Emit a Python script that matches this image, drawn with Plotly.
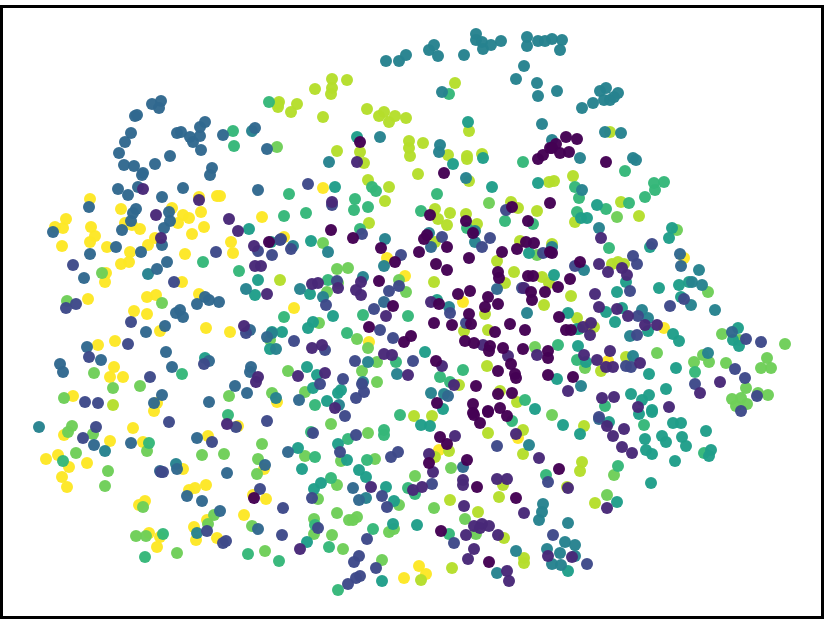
import plotly.graph_objects as go

class_colors = ["#440154","#482878","#3e4989","#31688e","#26828e","#1f9e89","#35b779","#6ece58","#b5de2b","#fde725"]

pts_0 = [(360,142),(444,173),(512,207),(538,159),(543,155),(550,203),(550,148),(566,137),(577,139),(556,144),(552,148),(560,153),(569,152),(606,162),(269,242),
(430,215),(466,221),(473,233),(528,221),(427,235),(424,239),(447,247),(419,252),(469,258),(502,252),(517,249),(526,242),(534,243),(550,252),(436,264),(447,270),(498,272),(499,278),(533,276),(528,276),(470,291),(458,294),(488,297),(485,307),(498,304),(439,304),(531,292),(532,300),(545,292),(469,314),(471,324),(434,323),(452,325),(510,324),(495,332),(525,330),(465,341),(474,343),(490,346),(489,351),(503,348),(523,349),(548,351),(548,358),(511,364),(498,371),(515,374),(516,378),(548,375),(476,386),(436,361),(498,394),(512,393),(437,403),(473,404),(488,411),(500,408),(507,416),(473,413),(379,281),(393,306),(411,336),(404,342),(369,327),(395,262),(381,248),(353,238),(331,230),
(580,262),(552,253),(570,279),(558,287),(559,317),(566,330),(571,330),(573,377),
(254,498),(440,437),(447,444),(429,463),(467,460),(477,487),(516,498),(441,531),(489,562),(474,415),(480,423),(488,412),(559,469)]
pts_1 = [(143,189),(199,200),(357,162),(332,202),(156,215),(161,238),(229,219),(238,231),(254,246),(255,266),(261,266),(267,294),(244,326),(258,377),(256,382),
(431,302),(312,284),(318,283),(338,288),(361,282),(356,290),(361,295),(386,316),(312,348),(322,345),(384,354),(392,355),(298,376),(325,373),(408,375),(442,366),(454,385),(335,408),(483,345),(508,356),(524,288),(537,355),
(601,238),(599,264),(608,272),(622,268),(627,275),(595,294),(599,307),(617,309),(628,316),(645,325),(657,325),(583,327),(591,323),(590,335),(610,351),(584,355),(597,360),(606,367),(613,367),(640,363),(568,391),(602,398),(614,397),(638,407),(669,407),(720,382),(700,393),
(227,424),(455,436),(429,454),(433,472),(413,490),(422,487),(371,487),(463,480),(463,485),(497,479),(507,479),(464,506),(524,513),(539,458),(516,434),(474,526),(482,524),(480,528),(489,526),(466,535),(498,535),(474,549),(468,559),(507,571),(509,581),(300,549),(548,556),
(607,426),(613,436),(624,429),(622,447),(632,453),(568,488),(607,508),(572,557)]
pts_2 = [(308,184),(506,210),(73,265),(174,282),(216,252),(258,251),(272,255),(280,240),(76,304),(66,308),(131,322),(246,333),(128,344),(89,357),(204,364),(150,377),(85,402),(98,403),
(281,239),(291,249),(362,234),(401,255),(442,237),(490,238),(482,247),(543,253),(326,305),(337,281),(389,291),(399,286),(374,309),(380,330),(393,338),(294,341),(325,350),(355,361),(413,361),(450,313),(466,323),(343,379),(320,384),(362,384),(364,392),(356,398),(345,416),(522,288),(332,205),
(652,244),(633,256),(637,264),(575,266),(630,291),(684,299),(670,306),(638,316),(637,335),(746,339),(761,342),(626,366),(631,367),(735,369),(745,378),(695,384),(757,396),(741,411),(599,417),
(96,427),(83,438),(169,422),(212,442),(236,427),(267,421),(161,472),(163,472),(260,489),(207,531),(223,543),(226,541),(282,535),(283,508),
(313,433),(356,435),(340,452),(391,457),(398,452),(382,496),(387,507),(312,498),(318,528),(367,539),(432,484),(454,543),(497,446),(359,556),(354,562),(376,568),(360,576),(356,578),(348,584),(548,482),(553,535),(587,564)]
pts_3 = [(152,104),(161,101),(159,108),(135,116),(137,115),(131,133),(125,142),(119,153),(124,165),(134,166),(143,173),(142,175),(155,164),(170,156),(177,133),(181,132),(190,137),(193,142),(200,136),(200,127),(205,122),(201,150),(223,135),(212,168),(210,175),(255,128),(267,149),(258,190),(118,189),(128,195),(138,187),(162,197),(183,188),(89,207),(136,209),(169,212),
(53,232),(122,230),(131,221),(133,213),(170,221),(164,228),(162,245),(116,247),(90,254),(141,252),(167,262),(157,269),(84,278),(205,297),(209,300),(219,302),(197,304),(180,310),(176,313),(183,317),(165,326),(146,332),(267,337),(87,347),(101,360),(60,364),(63,372),(166,352),(172,367),(209,361),(251,367),(250,372),(235,386),(247,393),(162,395),(154,403),(209,402),(250,330),
(431,247),(497,289),(299,400),(448,396),(384,302),(680,254),(681,266),(732,332),
(94,445),(131,443),(197,438),(177,469),(160,471),(227,473),(265,465),(187,496),(202,501),(220,511),(258,529),(288,452),(353,488),(359,500),(463,467),(599,419)]
pts_4 = [(252,131),(386,61),(399,61),(406,55),(429,50),(434,45),(438,56),(464,55),(476,34),(476,40),(482,42),(483,49),(491,45),(501,41),(527,37),(527,46),(538,41),(545,41),(524,66),(516,79),(537,83),(538,96),(442,92),(542,124),(380,137),(440,145),(439,152),(329,162),(466,178),
(552,39),(562,40),(560,50),(557,91),(582,108),(593,103),(600,91),(606,88),(604,100),(610,100),(614,97),(618,93),(605,132),(621,133),(580,158),(633,158),(636,160),(552,140),(582,190),
(148,274),(246,289),(429,233),(475,231),(475,242),(385,239),(384,266),(363,277),(328,252),(300,289),(323,297),(527,313),(431,393),(444,394),(397,374),(368,362),(363,382),(276,349),(272,333),(293,246),(339,405),(276,398),(449,307),
(599,228),(584,270),(699,270),(692,282),(702,285),(691,305),(715,310),(642,310),(648,318),(630,336),(708,353),(633,356),(581,386),(552,247),
(39,427),(105,451),(176,464),(197,533),(366,498),(529,445),(497,573),(516,551),(543,504),(542,512),(539,520),(547,549),
(568,523),(565,542),(575,545),(560,553),(552,564),(561,565),(575,556)]
pts_5 = [(468,122),(453,164),(483,158),(492,187),(538,183),(335,187),(357,137),(597,205),
(249,229),(258,280),(255,295),(272,332),(270,349),(205,358),(271,242),
(311,241),(310,294),(333,316),(313,322),(308,328),(282,332),(425,352),(307,367),(317,375),(313,388),(327,401),(338,393),(341,390),(535,409),(529,253),(443,409),(437,300),
(581,218),(587,218),(672,228),(669,238),(650,247),(554,275),(626,282),(617,292),(659,288),(679,285),(689,282),(681,297),(606,312),(622,308),(568,313),(615,322),(648,331),(673,334),(679,341),(578,346),(649,374),(676,368),(666,389),(631,394),(649,395),(642,400),(652,410),(738,328),(733,340),(739,346),(557,379),(586,362),(577,329),
(298,448),(302,469),(347,460),(338,444),(314,489),(321,483),(307,542),(366,477),(359,470),(386,487),(394,501),(393,524),(417,525),(382,581),(421,425),(430,426),
(563,425),(580,434),(609,422),(645,439),(639,414),(652,412),(673,423),(681,423),(662,436),(666,442),(682,437),(686,446),(646,450),(652,454),(675,461),(706,431),(711,450),(709,456),(651,483),(617,502),(568,571)]
pts_6 = [(233,131),(234,146),(269,102),(449,94),(523,162),(355,199),(372,187),(376,191),(437,194),(368,207),(421,211),(354,210),(289,194),(306,213),(625,171),(575,187),(579,198),(654,183),(664,182),(655,190),(645,197),(629,203),(577,212),(606,209),
(203,262),(239,271),(182,374),(228,415),(284,216),(505,221),(533,224),(360,229),(347,333),(363,315),(408,316),(284,317),(328,280),(463,370),(440,377),(315,405),(525,400),(396,362),(450,382),(400,415),(467,228),
(609,248),(558,345),(577,360),(695,372),(605,406),(579,329),
(63,461),(149,443),(163,534),(145,557),(248,554),(279,561),
(315,457),(311,432),(348,439),(384,430),(384,435),(367,460),(331,478),(329,547),(338,590),(373,529),(408,488),(415,494),(449,534),(512,421),(546,475),(315,525),(644,425),(704,453),(618,466)]
pts_7 = [(277,147),(489,203),(102,273),(67,301),(162,303),(94,373),(113,388),(140,386),(229,396),(64,398),(272,393),(270,340),
(323,243),(337,269),(348,268),(327,292),(399,280),(406,292),(357,339),(368,348),(377,362),(362,371),(377,382),(288,371),(305,392),(319,323),(338,283),(537,255),(535,347),
(617,217),(677,230),(708,292),(657,353),(585,368),(722,334),(785,344),(767,358),(761,368),(771,368),(726,363),(709,362),(694,362),(703,355),(746,388),(732,399),(741,398),(736,406),(747,404),(758,393),(768,395),(552,415),(739,340),
(72,426),(68,432),(93,434),(76,453),(108,471),(105,486),(147,451),(143,507),(202,455),(224,454),(262,444),(258,459),(257,474),(214,515),(208,524),(252,526),(136,536),(146,536),(177,553),(265,551),
(331,424),(368,433),(305,456),(341,461),(375,459),(337,485),(318,499),(399,505),(314,519),(314,534),(332,535),(343,549),(337,513),(349,520),(353,520),(357,517),(389,532),(394,529),(382,560),(434,508),(415,476),(451,468),(465,519),(476,534),(614,475),(607,495)]
pts_8 = [(278,104),(279,102),(278,107),(297,104),(291,112),(315,89),(332,79),(332,88),(331,94),(347,80),(323,117),(367,109),(384,112),(379,116),(389,122),(395,116),(406,118),(455,83),(469,131),(409,141),(409,148),(410,156),(423,143),(337,151),(360,152),(364,163),(448,155),(467,156),(467,159),(482,154),(418,174),(469,181),(368,180),(389,187),(385,201),(435,209),(450,213),(511,202),(518,208),(537,211),(549,182),
(610,132),(554,181),(573,176),(621,202),(113,405),(280,280),
(369,223),(438,219),(447,225),(466,214),(477,224),(435,242),(434,282),(497,261),(514,272),(505,283),(520,241),(542,277),(544,305),(485,314),(464,331),(488,330),(487,366),(500,391),(517,402),(459,385),(432,416),(414,416),(549,283),
(575,222),(639,216),(612,264),(618,262),(624,264),(571,296),(577,318),(594,327),(626,357),(601,371),(552,244),
(488,433),(523,430),(449,451),(435,457),(523,454),(503,485),(499,497),(450,500),(478,512),(504,538),(524,558),(524,563),(452,568),(421,580),
(584,426),(582,462),(580,471),(595,503),(567,487)]
pts_9 = [(90,199),(199,197),(217,196),(220,196),(121,209),(172,208),(201,212),(323,188),
(66,219),(55,227),(63,228),(62,246),(91,227),(95,236),(90,242),(107,247),(125,223),(132,225),(140,229),(183,215),(189,218),(178,223),(204,227),(192,234),(155,238),(148,245),(130,252),(129,262),(121,264),(185,254),(231,242),(233,253),(262,217),(106,273),(105,282),(182,282),(88,299),(147,297),(156,295),(199,294),(134,311),(147,314),(160,331),(206,328),(230,332),(115,341),(98,345),(114,367),(110,377),(123,377),(73,396),(157,403),(154,411),(277,402),
(284,237),(387,258),(405,276),(294,308),(369,342),(463,302),(684,258),(664,328),(608,361),(589,325),
(64,435),(110,441),(133,428),(143,442),(46,459),(58,455),(69,467),(87,463),(62,477),(67,487),(208,436),(238,426),(183,469),(189,490),(195,488),(206,485),(139,505),(145,501),(253,495),(266,499),(244,515),(207,520),(194,527),(149,533),(160,537),(157,547),(196,540),(217,538),(264,469),
(439,450),(518,438),(419,566),(426,574),(404,578)]

all_pts = [pts_0, pts_1, pts_2, pts_3, pts_4, pts_5, pts_6, pts_7, pts_8, pts_9]

fig = go.Figure()
for k in range(9, -1, -1):
    fig.add_trace(go.Scatter(
        x=[p[0] for p in all_pts[k]], y=[p[1] for p in all_pts[k]],
        mode="markers", showlegend=False,
        marker=dict(color=class_colors[k], size=12, opacity=0.97, line=dict(width=0)),
    ))

axis = dict(showgrid=False, zeroline=False, showticklabels=False, ticks="",
            showline=True, linecolor="black", linewidth=3, mirror=True)
fig.update_xaxes(range=[3, 821], **axis)
fig.update_yaxes(range=[616, 8], **axis)
fig.update_layout(width=829, height=622, paper_bgcolor="white", plot_bgcolor="white",
                  margin=dict(l=3, r=8, t=8, b=6), autosize=False)
fig.write_html("out.html", config=dict(displayModeBar=False),
               post_script="document.body.style.margin='0';")
